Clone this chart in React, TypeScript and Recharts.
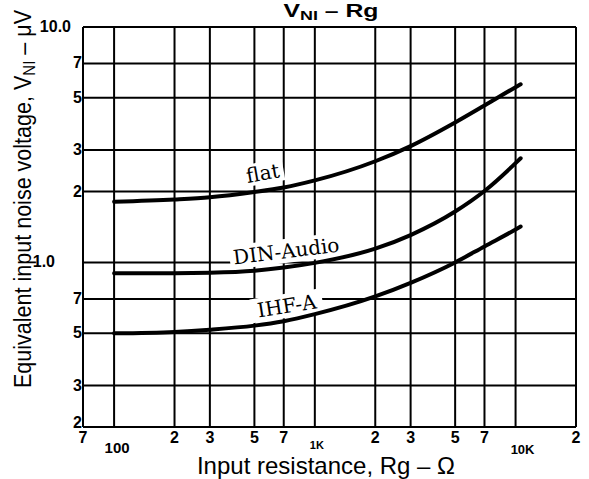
import React from "react";
import {
  LineChart,
  Line,
  XAxis,
  YAxis,
  CartesianGrid,
  ReferenceDot,
} from "recharts";

document.body.style.margin = "0";

// axis ticks (log scales)
const xTicks = [70, 100, 200, 300, 500, 700, 1000, 2000, 3000, 5000, 7000, 10000, 20000];
const xTickText = ["7", "100", "2", "3", "5", "7", "1K", "2", "3", "5", "7", "10K", "2"];
const yTicks = [0.2, 0.3, 0.5, 0.7, 1, 2, 3, 5, 7, 10];
const yTickText = ["2", "3", "5", "7", "1.0", "2", "3", "5", "7", "10.0"];

// Rg (ohm) and noise voltage (uV)
const rg = [100, 200, 300, 500, 700, 1000, 2000, 3000, 5000, 7000, 10000, 10600];
const flat = [1.81, 1.85, 1.89, 1.99, 2.08, 2.23, 2.69, 3.12, 3.93, 4.64, 5.55, 5.71];
const dinAudio = [0.9, 0.9, 0.904, 0.922, 0.951, 0.996, 1.144, 1.307, 1.645, 2.01, 2.64, 2.77];
const ihfA = [0.5, 0.507, 0.518, 0.539, 0.563, 0.603, 0.717, 0.819, 1.0, 1.17, 1.38, 1.42];

// curve names, placed near their curves
const curveLabels = [
  { text: "flat", x: 550, y: 2.4, angle: -10, w: 42, h: 22 },
  { text: "DIN-Audio", x: 720, y: 1.12, angle: -7, w: 114, h: 24 },
  { text: "IHF-A", x: 725, y: 0.655, angle: -9, w: 72, h: 24 },
];

const series = [flat, dinAudio, ihfA];

const tickFont = "'Liberation Sans', Arial, sans-serif";

function XTick(props: any) {
  const { x, y, payload } = props;
  const i = xTicks.indexOf(payload.value);
  const t = xTickText[i];
  if (t === "100") {
    return (
      <text x={x + 3} y={y + 18} textAnchor="middle" fontFamily={tickFont} fontWeight="bold" fontSize={15}>
        {t}
      </text>
    );
  }
  if (t === "1K" || t === "10K") {
    return (
      <text x={x + (t === "1K" ? 2 : 7)} y={y + (t === "1K" ? 14 : 19)} textAnchor="middle" fontFamily={tickFont} fontWeight="bold" fontSize={t === "1K" ? 11 : 13}>
        {t}
      </text>
    );
  }
  return (
    <text x={x} y={y + 8} textAnchor="middle" fontFamily={tickFont} fontWeight="bold" fontSize={16}>
      {t}
    </text>
  );
}

function YTick(props: any) {
  const { x, y, payload } = props;
  const i = yTicks.indexOf(payload.value);
  const t = yTickText[i];
  let tx = x + 7;
  let ty = y + 5;
  if (t === "1.0") tx = x - 20;
  if (t === "10.0") tx = x - 4;
  if (payload.value === 0.2) ty = y + 1;
  return (
    <text x={tx} y={ty} textAnchor="end" fontFamily={tickFont} fontWeight="bold" fontSize={16}>
      {t}
    </text>
  );
}

export default function App() {
  return (
    <div style={{ position: "relative", width: 589, height: 479, background: "#fff" }}>
      <LineChart width={589} height={479} margin={{ top: 27, right: 13, bottom: 22, left: 23 }}>
        <CartesianGrid stroke="#000" strokeWidth={2} horizontalValues={yTicks} verticalValues={xTicks} />
        <XAxis
          type="number"
          dataKey="rg"
          scale="log"
          domain={[70, 20000]}
          ticks={xTicks}
          interval={0}
          allowDataOverflow
          height={30}
          axisLine={false}
          tickLine={false}
          tick={XTick}
        />
        <YAxis
          type="number"
          scale="log"
          domain={[0.2, 10]}
          ticks={yTicks}
          interval={0}
          allowDataOverflow
          width={60}
          axisLine={false}
          tickLine={false}
          tick={YTick}
        />
        {curveLabels.map((l) => (
          <ReferenceDot
            key={l.text}
            x={l.x}
            y={l.y}
            r={0}
            zIndex={300}
            shape={(p: any) => (
              <g transform={`translate(${p.cx},${p.cy}) rotate(${l.angle})`}>
                <rect x={-l.w / 2} y={-l.h / 2} width={l.w} height={l.h} fill="#fff" />
                <text textAnchor="middle" dy="0.36em" fontFamily="'DejaVu Serif', serif" fontSize={20}>
                  {l.text}
                </text>
              </g>
            )}
          />
        ))}
        {series.map((s, k) => (
          <Line
            key={k}
            data={rg.map((r, i) => ({ rg: r, v: s[i] }))}
            dataKey="v"
            type="monotone"
            stroke="#000"
            strokeWidth={4}
            strokeLinecap="round"
            dot={false}
            isAnimationActive={false}
          />
        ))}
      </LineChart>
      <svg width={589} height={479} style={{ position: "absolute", left: 0, top: 0, pointerEvents: "none" }}>
        <text x={331} y={17} textAnchor="middle" fontFamily={tickFont} fontWeight="bold" fontSize={18} textLength={95} lengthAdjust="spacingAndGlyphs">
          V<tspan fontSize={13} dy={3}>NI</tspan>
          <tspan dy={-3}> – Rg</tspan>
        </text>
        <text
          transform="translate(31,199) rotate(-90)"
          textAnchor="middle"
          fontFamily={tickFont}
          fontSize={23}
          textLength={378}
          lengthAdjust="spacingAndGlyphs"
        >
          Equivalent input noise voltage, V<tspan fontSize={16} dy={4}>NI</tspan>
          <tspan dy={-4}> – μV</tspan>
        </text>
        <text x={326} y={474} textAnchor="middle" fontFamily={tickFont} fontSize={24}>
          Input resistance, Rg – Ω
        </text>
      </svg>
    </div>
  );
}
